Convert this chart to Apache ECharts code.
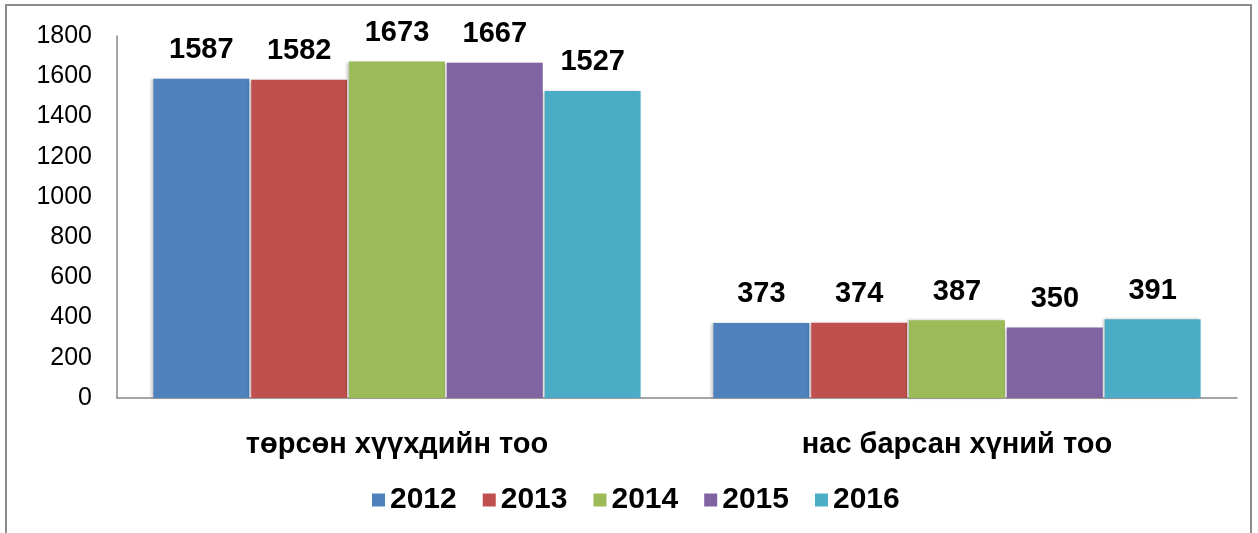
<!DOCTYPE html>
<html>
<head>
<meta charset="utf-8">
<script src="https://cdn.jsdelivr.net/npm/echarts@6/dist/echarts.min.js"></script>
<style>
html, body { margin: 0; padding: 0; background: #fff; }
#chart { width: 1258px; height: 533px; }
</style>
</head>
<body>
<div id="chart"></div>
<script>
var categories = ['төрсөн хүүхдийн тоо', 'нас барсан хүний тоо'];
var years = ['2012', '2013', '2014', '2015', '2016'];
var v2012 = [1587, 373];
var v2013 = [1582, 374];
var v2014 = [1673, 387];
var v2015 = [1667, 350];
var v2016 = [1527, 391];
var colors = ['#4F81BD', '#C0504D', '#9BBB59', '#8064A2', '#4BACC6'];

var chart = echarts.init(document.getElementById('chart'));
var values = [v2012, v2013, v2014, v2015, v2016];

var series = years.map(function (y, i) {
	return {
		name: y,
		type: 'bar',
		data: values[i],
		barGap: '2%',
		barCategoryGap: '13%',
		itemStyle: {
			color: colors[i],
			shadowColor: 'rgba(0,0,0,0.25)',
			shadowBlur: 3,
			shadowOffsetX: -2
		},
		label: {
			show: true,
			position: 'top',
			distance: 14,
			fontFamily: 'Liberation Sans, Arial',
			fontWeight: 'bold',
			fontSize: 29,
			color: '#000'
		}
	};
});

chart.setOption({
	animation: false,
	textStyle: { fontFamily: 'Liberation Sans, Arial' },
	graphic: [{
		type: 'rect',
		shape: { x: 6, y: 5, width: 1245, height: 540 },
		style: { fill: 'none', stroke: '#8c8c8c', lineWidth: 2 },
		silent: true
	}],
	legend: {
		bottom: 13,
		left: 367,
		itemWidth: 13,
		itemHeight: 13,
		itemGap: 26,
		icon: 'rect',
		textStyle: { fontWeight: 'bold', fontSize: 30, color: '#000' },
		data: years
	},
	grid: { left: 117, right: 21, top: 36, bottom: 135 },
	xAxis: {
		type: 'category',
		data: categories,
		axisLine: { lineStyle: { color: '#888', width: 1.5 } },
		axisTick: { show: false },
		axisLabel: { fontWeight: 'bold', fontSize: 29, color: '#000', margin: 32 }
	},
	yAxis: {
		type: 'value',
		min: 0,
		max: 1800,
		interval: 200,
		axisLine: { show: true, lineStyle: { color: '#888', width: 1.5 } },
		axisTick: { show: false },
		splitLine: { show: false },
		axisLabel: {
			fontSize: 25,
			color: '#000',
			margin: 25,
			formatter: function (v) { return String(v); }
		}
	},
	series: series
});
</script>
</body>
</html>
